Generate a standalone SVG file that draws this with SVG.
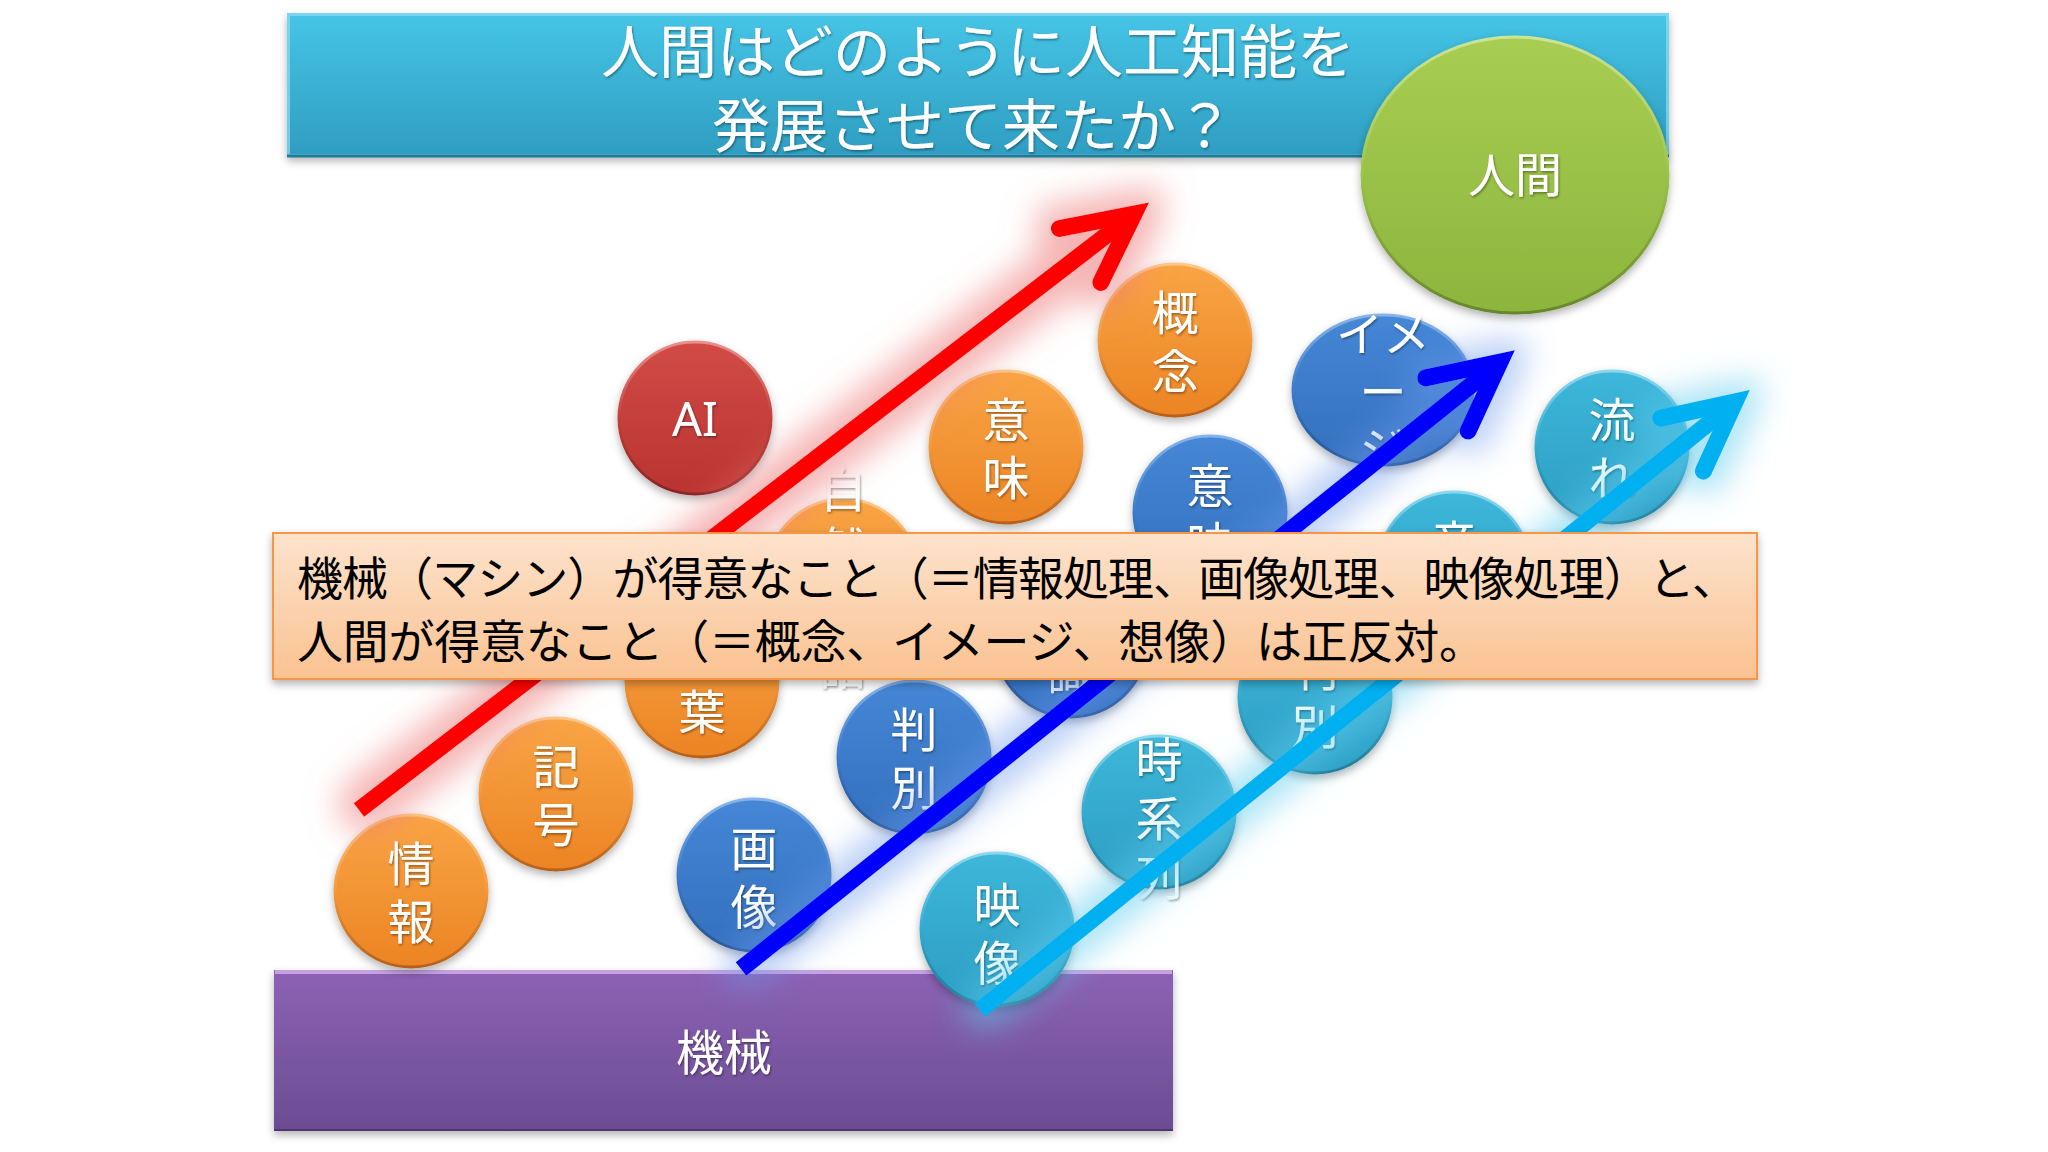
<svg xmlns="http://www.w3.org/2000/svg" width="2048" height="1152" viewBox="0 0 2048 1152">
<defs>
<style>
.bt{font-family:"Noto Sans CJK JP","Noto Sans",sans-serif;font-size:47px;fill:#fff;text-anchor:middle;dominant-baseline:central;filter:url(#tsh)}
.ttl{font-family:"Noto Sans CJK JP",sans-serif;font-size:58px;fill:#fff;text-anchor:middle;dominant-baseline:central;filter:url(#tsh)}
.note{font-family:"Noto Sans CJK JP",sans-serif;font-size:46px;fill:#000;dominant-baseline:central}
.b-or{fill:url(#gOr);stroke:url(#rOr);stroke-width:3;filter:url(#sh)}
.b-rd{fill:url(#gRd);stroke:url(#rRd);stroke-width:3;filter:url(#sh)}
.b-bl{fill:url(#gBl);stroke:url(#rBl);stroke-width:3;filter:url(#sh)}
.b-cy{fill:url(#gCy);stroke:url(#rCy);stroke-width:3;filter:url(#sh)}
.b-gr{fill:url(#gGr);stroke:url(#rGr);stroke-width:3;filter:url(#sh)}
.shaft{fill:none;stroke-width:17;stroke-linecap:butt}
</style>
<linearGradient id="gOr" x1="0" y1="0" x2="0" y2="1"><stop offset="0" stop-color="#F9A545"/><stop offset="1" stop-color="#EC8424"/></linearGradient>
<linearGradient id="rOr" x1="0" y1="0" x2="0" y2="1"><stop offset="0" stop-color="#FCC888"/><stop offset="0.5" stop-color="#F29A3C"/><stop offset="1" stop-color="#B5601A"/></linearGradient>
<linearGradient id="gRd" x1="0" y1="0" x2="0" y2="1"><stop offset="0" stop-color="#D24B46"/><stop offset="1" stop-color="#B93431"/></linearGradient>
<linearGradient id="rRd" x1="0" y1="0" x2="0" y2="1"><stop offset="0" stop-color="#E8908C"/><stop offset="0.5" stop-color="#C53E3A"/><stop offset="1" stop-color="#872422"/></linearGradient>
<linearGradient id="gBl" x1="0" y1="0" x2="0" y2="1"><stop offset="0" stop-color="#4587D6"/><stop offset="1" stop-color="#336FBD"/></linearGradient>
<linearGradient id="rBl" x1="0" y1="0" x2="0" y2="1"><stop offset="0" stop-color="#86B3EA"/><stop offset="0.5" stop-color="#3C7BCB"/><stop offset="1" stop-color="#24508C"/></linearGradient>
<linearGradient id="gCy" x1="0" y1="0" x2="0" y2="1"><stop offset="0" stop-color="#3DB7DA"/><stop offset="1" stop-color="#2B9DC2"/></linearGradient>
<linearGradient id="rCy" x1="0" y1="0" x2="0" y2="1"><stop offset="0" stop-color="#8AD8EE"/><stop offset="0.5" stop-color="#34AAD0"/><stop offset="1" stop-color="#1E7591"/></linearGradient>
<linearGradient id="gGr" x1="0" y1="0" x2="0" y2="1"><stop offset="0" stop-color="#A8CD52"/><stop offset="1" stop-color="#8DB53D"/></linearGradient>
<linearGradient id="rGr" x1="0" y1="0" x2="0" y2="1"><stop offset="0" stop-color="#CCE595"/><stop offset="0.5" stop-color="#9BC448"/><stop offset="1" stop-color="#67862A"/></linearGradient>
<linearGradient id="gTitle" x1="0" y1="0" x2="0" y2="1"><stop offset="0" stop-color="#46C5E6"/><stop offset="1" stop-color="#2E9DC1"/></linearGradient>
<linearGradient id="gPur" x1="0" y1="0" x2="0" y2="1"><stop offset="0" stop-color="#8C62B5"/><stop offset="1" stop-color="#6B4C92"/></linearGradient>
<linearGradient id="gNote" x1="0" y1="0" x2="0" y2="1"><stop offset="0" stop-color="#FDE3CD"/><stop offset="1" stop-color="#FAC291"/></linearGradient>
<filter id="sh" x="-20%" y="-20%" width="140%" height="140%"><feDropShadow dx="0" dy="4" stdDeviation="4" flood-color="#000" flood-opacity="0.3"/></filter>
<filter id="tsh" x="-20%" y="-20%" width="140%" height="140%"><feDropShadow dx="1" dy="1.5" stdDeviation="1" flood-color="#000" flood-opacity="0.4"/></filter>
<filter id="glowR" filterUnits="userSpaceOnUse" x="0" y="0" width="2048" height="1152">
<feMorphology in="SourceAlpha" operator="dilate" radius="14" result="d"/>
<feGaussianBlur in="d" stdDeviation="16" result="b"/>
<feFlood flood-color="#EE7878" flood-opacity="0.55"/>
<feComposite in2="b" operator="in" result="g"/>
<feMerge><feMergeNode in="g"/><feMergeNode in="SourceGraphic"/></feMerge>
</filter>
<filter id="glowB" filterUnits="userSpaceOnUse" x="0" y="0" width="2048" height="1152">
<feMorphology in="SourceAlpha" operator="dilate" radius="12" result="d"/>
<feGaussianBlur in="d" stdDeviation="15" result="b"/>
<feFlood flood-color="#6A98EC" flood-opacity="0.45"/>
<feComposite in2="b" operator="in" result="g"/>
<feMerge><feMergeNode in="g"/><feMergeNode in="SourceGraphic"/></feMerge>
</filter>
<filter id="glowC" filterUnits="userSpaceOnUse" x="0" y="0" width="2048" height="1152">
<feMorphology in="SourceAlpha" operator="dilate" radius="12" result="d"/>
<feGaussianBlur in="d" stdDeviation="15" result="b"/>
<feFlood flood-color="#5CCDF0" flood-opacity="0.5"/>
<feComposite in2="b" operator="in" result="g"/>
<feMerge><feMergeNode in="g"/><feMergeNode in="SourceGraphic"/></feMerge>
</filter>
<marker id="mR" markerUnits="userSpaceOnUse" orient="auto" overflow="visible" refX="0" refY="0" markerWidth="10" markerHeight="10"><path d="M-68,-34 L0,0 L-68,34" fill="none" stroke="#FF0000" stroke-width="17" stroke-linecap="round" stroke-linejoin="miter"/></marker>
<marker id="mB" markerUnits="userSpaceOnUse" orient="auto" overflow="visible" refX="0" refY="0" markerWidth="10" markerHeight="10"><path d="M-68,-34 L0,0 L-68,34" fill="none" stroke="#0000FF" stroke-width="17" stroke-linecap="round" stroke-linejoin="miter"/></marker>
<marker id="mC" markerUnits="userSpaceOnUse" orient="auto" overflow="visible" refX="0" refY="0" markerWidth="10" markerHeight="10"><path d="M-68,-34 L0,0 L-68,34" fill="none" stroke="#00B0F0" stroke-width="17" stroke-linecap="round" stroke-linejoin="miter"/></marker>
</defs>
<rect width="2048" height="1152" fill="#fff"/>

<g id="title">
<rect x="287" y="13" width="1382" height="144" fill="url(#gTitle)" filter="url(#sh)"/>
<rect x="288.5" y="14.5" width="1379" height="141" fill="none" stroke="#8FDDF2" stroke-width="3" stroke-opacity="0.7"/>
<line x1="287" y1="156" x2="1669" y2="156" stroke="#1E7C9A" stroke-width="3"/>
<text class="ttl" x="978" y="48">人間はどのように人工知能を</text>
<text class="ttl" x="973" y="122">発展させて来たか？</text>
</g>

<g id="machine">
<rect x="274" y="970" width="899" height="161" fill="url(#gPur)" filter="url(#sh)"/>
<line x1="275" y1="972" x2="1172" y2="972" stroke="#C6A2E4" stroke-width="4"/>
<line x1="274" y1="1130" x2="1173" y2="1130" stroke="#4F3670" stroke-width="2"/>
<text class="bt" x="724" y="1049" style="font-size:48px">機械</text>
</g>

<g id="human">
<ellipse class="b-gr" cx="1515" cy="175" rx="153" ry="138"/>
<text class="bt" x="1515" y="171">人間</text>
</g>

<g id="n-jouhou"><circle class="b-or" cx="411" cy="891" r="76"/><text class="bt"><tspan x="411" y="860">情</tspan><tspan x="411" y="918">報</tspan></text></g>
<g id="n-kigou"><circle class="b-or" cx="556" cy="794" r="76"/><text class="bt"><tspan x="556" y="763">記</tspan><tspan x="556" y="821">号</tspan></text></g>
<g id="n-kotoba"><circle class="b-or" cx="702" cy="681" r="76"/><text class="bt"><tspan x="702" y="650">言</tspan><tspan x="702" y="708">葉</tspan></text></g>
<g id="n-shizengengo"><circle class="b-or" cx="843" cy="575" r="76"/><text class="bt"><tspan x="843" y="486">自</tspan><tspan x="843" y="545">然</tspan><tspan x="843" y="604">言</tspan><tspan x="843" y="663">語</tspan></text></g>
<g id="n-imi1"><circle class="b-or" cx="1006" cy="447" r="76"/><text class="bt"><tspan x="1006" y="416">意</tspan><tspan x="1006" y="474">味</tspan></text></g>
<g id="n-gainen"><circle class="b-or" cx="1175" cy="340" r="76"/><text class="bt"><tspan x="1175" y="309">概</tspan><tspan x="1175" y="367">念</tspan></text></g>
<g id="n-ai"><circle class="b-rd" cx="695" cy="418" r="76"/><text class="bt" x="695" y="418" style="font-family:'Noto Sans',sans-serif">AI</text></g>

<g id="n-gazou"><circle class="b-bl" cx="754" cy="875" r="76"/><text class="bt"><tspan x="754" y="845">画</tspan><tspan x="754" y="903">像</tspan></text></g>
<g id="n-hanbetsu1"><circle class="b-bl" cx="914" cy="757" r="76"/><text class="bt"><tspan x="914" y="726">判</tspan><tspan x="914" y="784">別</tspan></text></g>
<g id="n-ninshiki"><circle class="b-bl" cx="1071" cy="641" r="76"/><text class="bt"><tspan x="1071" y="610">認</tspan><tspan x="1071" y="668">識</tspan></text></g>
<g id="n-imi2"><circle class="b-bl" cx="1210" cy="512" r="76"/><text class="bt"><tspan x="1210" y="482">意</tspan><tspan x="1210" y="540">味</tspan></text></g>
<g id="n-image"><ellipse class="b-bl" cx="1383" cy="390" rx="90" ry="75"/><text class="bt"><tspan x="1383" y="330">イメ</tspan><tspan x="1383" y="388">ー</tspan><tspan x="1383" y="445">ジ</tspan></text></g>

<g id="n-eizou"><circle class="b-cy" cx="997" cy="929" r="76"/><text class="bt"><tspan x="997" y="901">映</tspan><tspan x="997" y="959">像</tspan></text></g>
<g id="n-jikeiretsu"><circle class="b-cy" cx="1159" cy="812" r="76"/><text class="bt"><tspan x="1159" y="756">時</tspan><tspan x="1159" y="815">系</tspan><tspan x="1159" y="874">列</tspan></text></g>
<g id="n-hanbetsu2"><circle class="b-cy" cx="1315" cy="697" r="76"/><text class="bt"><tspan x="1315" y="665">判</tspan><tspan x="1315" y="723">別</tspan></text></g>
<g id="n-onsei"><circle class="b-cy" cx="1454" cy="568" r="76"/><text class="bt"><tspan x="1454" y="539">音</tspan><tspan x="1454" y="597">声</tspan></text></g>
<g id="n-nagare"><circle class="b-cy" cx="1612" cy="447" r="76"/><text class="bt"><tspan x="1612" y="416">流</tspan><tspan x="1612" y="474">れ</tspan></text></g>

<g id="connectors">
<g filter="url(#glowR)"><line class="shaft" x1="359" y1="810" x2="1134" y2="214" stroke="#FF0000" marker-end="url(#mR)"/></g>
<g filter="url(#glowB)"><line class="shaft" x1="741" y1="969" x2="1500" y2="362" stroke="#0000FF" marker-end="url(#mB)"/></g>
<g filter="url(#glowC)"><line class="shaft" x1="980" y1="1010" x2="1735" y2="402" stroke="#00B0F0" marker-end="url(#mC)"/></g>
</g>

<g id="note">
<rect x="273" y="533" width="1484" height="146" fill="url(#gNote)" stroke="#F79646" stroke-width="2" filter="url(#sh)"/>
<text class="note" x="297" y="575" textLength="1441" lengthAdjust="spacing">機械（マシン）が得意なこと（＝情報処理、画像処理、映像処理）と、</text>
<text class="note" x="297" y="638" textLength="1188" lengthAdjust="spacing">人間が得意なこと（＝概念、イメージ、想像）は正反対。</text>
</g>
</svg>
